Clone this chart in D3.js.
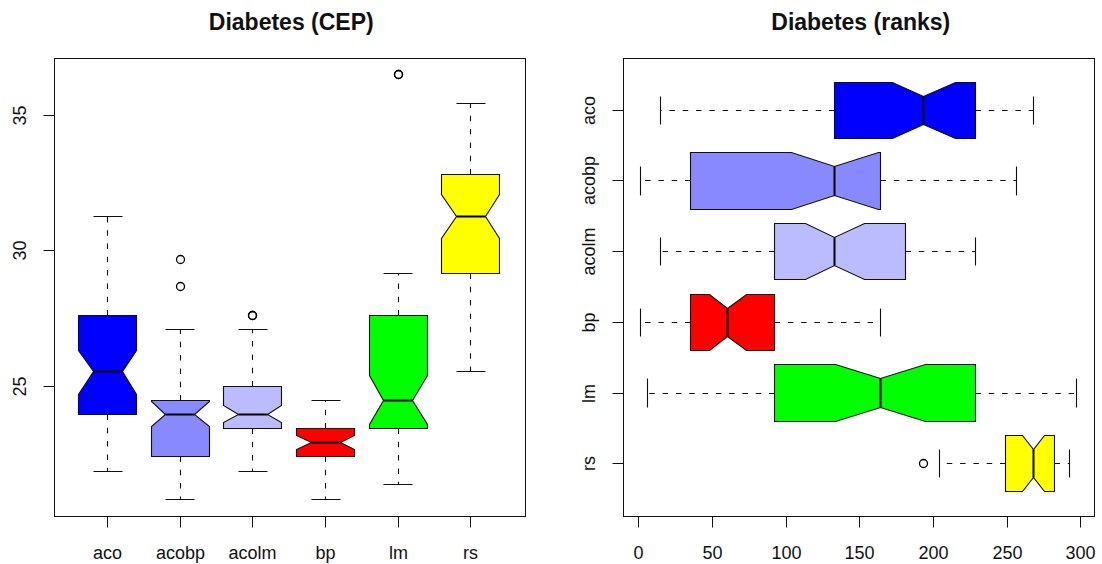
<!DOCTYPE html>
<html>
<head>
<meta charset="utf-8">
<script src="https://cdn.jsdelivr.net/npm/d3@7"></script>
<style>
  body { margin: 0; background: #fff; }
  svg { display: block; font-family: 'Liberation Sans', Arial, sans-serif; }
  .tick line { stroke: #111; }
  .tick text { fill: #111; font-size: 18px; }
  .frame { fill: none; stroke: #111; stroke-width: 1; }
  .whisker { stroke: #111; stroke-width: 1.1; stroke-dasharray: 5.5, 7.8; }
  .cap { stroke: #111; stroke-width: 1.1; }
  .box { stroke: #111; stroke-width: 1.1; }
  .median { stroke: #000; stroke-width: 2; }
  .outlier { fill: none; stroke: #000; stroke-width: 1.3; }
  .title { font-size: 23px; font-weight: bold; fill: #111; }
</style>
</head>
<body>
<svg id="chart" width="1102" height="564"></svg>
<script>
// methods, shared by both panels
const methods = ['aco', 'acobp', 'acolm', 'bp', 'lm', 'rs'];
const fills = ['#0000ff', '#8888ff', '#bbbbff', '#ff0000', '#00ff00', '#ffff00'];

// Diabetes (CEP): five-number summaries plus notch limits
const cepLower    = [21.86, 20.83, 21.86, 20.83, 21.35, 25.53];
const cepQ1       = [23.96, 22.41, 23.45, 22.41, 23.45, 29.17];
const cepNotchLo  = [24.69, 23.50, 23.67, 22.66, 23.58, 30.44];
const cepMedian   = [25.53, 23.96, 23.96, 22.92, 24.48, 31.26];
const cepNotchHi  = [26.30, 24.45, 24.27, 23.19, 25.38, 32.06];
const cepQ3       = [27.62, 24.48, 25.00, 23.44, 27.62, 32.82];
const cepUpper    = [31.26, 27.09, 27.09, 24.48, 29.17, 35.44];
const cepOutliers = [[], [29.69, 28.66], [27.62, 27.62], [], [36.49, 36.49], []];
const cepTicks    = [25, 30, 35];

// Diabetes (ranks)
const rankLower    = [14.5, 1.4, 14.5, 1.4, 5.6, 204.0];
const rankQ1       = [132.6, 35.0, 91.8, 35.0, 91.8, 248.8];
const rankNotchLo  = [172.3, 103.5, 113.4, 47.9, 133.6, 260.6];
const rankMedian   = [193.2, 132.9, 132.9, 60.3, 164.1, 267.8];
const rankNotchHi  = [214.8, 162.3, 152.8, 73.0, 194.4, 274.9];
const rankQ3       = [228.4, 163.8, 180.8, 91.8, 228.4, 282.2];
const rankUpper    = [267.8, 256.3, 228.4, 163.8, 297.0, 292.0];
const rankOutliers = [[], [], [], [], [], [193.4]];
const rankTicks    = [0, 50, 100, 150, 200, 250, 300];

let svg = d3.select('#chart');

let makeStats = function (lower, q1, nlo, med, nhi, q3, upper, outs) {
  return methods.map((m, i) => {
    return {
      name: m, idx: i + 1, fill: fills[i],
      lower: lower[i], q1: q1[i], nlo: nlo[i], med: med[i],
      nhi: nhi[i], q3: q3[i], upper: upper[i], out: outs[i]
    };
  });
};

// R style: extend the data range by 4% on each side
let padRange = function (lo, hi) {
  let e = (hi - lo) * 0.04;
  return [lo - e, hi + e];
};

// put 1px lines on pixel centres so they stay sharp
let snap = (v) => Math.round(v - 0.5) + 0.5;

let drawPanel = function (cfg) {
  let stats = cfg.stats;
  let horiz = cfg.horizontal;
  let p = cfg.plot;

  let lo = d3.min(stats, (d) => Math.min(d.lower, ...d.out));
  let hi = d3.max(stats, (d) => Math.max(d.upper, ...d.out));

  let valScale = d3.scaleLinear().domain(padRange(lo, hi));
  let catScale = d3.scaleLinear().domain(padRange(0.5, methods.length + 0.5));
  if (horiz) {
    valScale.range([p.left, p.right]);
    catScale.range([p.top, p.bottom]);   // aco at the top
  } else {
    valScale.range([p.bottom, p.top]);
    catScale.range([p.left, p.right]);
  }

  // maps (category, value) to screen point
  let pt = (c, v) => horiz
    ? [snap(valScale(v)), snap(catScale(c))]
    : [snap(catScale(c)), snap(valScale(v))];

  let g = svg.append('g');
  let wid = 0.4, nf = 0.5;

  let grp = g.selectAll('.bx')
    .data(stats)
    .enter()
    .append('g')
    .attr('class', 'bx');

  // dashed whiskers
  grp.append('path')
    .attr('class', 'whisker')
    .attr('d', (d) => 'M' + pt(d.idx, d.q1) + 'L' + pt(d.idx, d.lower) +
      'M' + pt(d.idx, d.q3) + 'L' + pt(d.idx, d.upper));

  // staples
  grp.append('path')
    .attr('class', 'cap')
    .attr('d', (d) => 'M' + pt(d.idx - wid / 2, d.lower) + 'L' + pt(d.idx + wid / 2, d.lower) +
      'M' + pt(d.idx - wid / 2, d.upper) + 'L' + pt(d.idx + wid / 2, d.upper));

  // notched box, same vertex order as R's bxp
  grp.append('path')
    .attr('class', 'box')
    .attr('fill', (d) => d.fill)
    .attr('d', (d) => {
      let off = [-1, 1, 1, nf, 1, 1, -1, -1, -nf, -1];
      let vals = [d.q1, d.q1, d.nlo, d.med, d.nhi, d.q3, d.q3, d.nhi, d.med, d.nlo];
      return 'M' + off.map((o, k) => pt(d.idx + o * wid, vals[k])).join('L') + 'Z';
    });

  grp.append('path')
    .attr('class', 'median')
    .attr('d', (d) => 'M' + pt(d.idx - wid * nf, d.med) + 'L' + pt(d.idx + wid * nf, d.med));

  grp.selectAll('.outlier')
    .data((d) => d.out.map((v) => ({ idx: d.idx, v: v })))
    .enter()
    .append('circle')
    .attr('class', 'outlier')
    .attr('cx', (d) => pt(d.idx, d.v)[0])
    .attr('cy', (d) => pt(d.idx, d.v)[1])
    .attr('r', 4);

  // frame
  g.append('rect')
    .attr('class', 'frame')
    .attr('x', snap(p.left))
    .attr('y', snap(p.top))
    .attr('width', Math.round(p.right - p.left))
    .attr('height', Math.round(p.bottom - p.top));

  // category axis and value axis
  let catAxis = horiz
    ? d3.axisLeft(catScale).tickValues(stats.map((d) => d.idx)).tickFormat((d) => methods[d - 1])
    : d3.axisBottom(catScale).tickValues(stats.map((d) => d.idx)).tickFormat((d) => methods[d - 1]);
  let valAxis = horiz
    ? d3.axisBottom(valScale).tickValues(cfg.ticks)
    : d3.axisLeft(valScale).tickValues(cfg.ticks);

  let bottomAxis = horiz ? valAxis : catAxis;
  let leftAxis = horiz ? catAxis : valAxis;

  let xa = g.append('g')
    .attr('transform', 'translate(0,' + snap(p.bottom) + ')')
    .call(bottomAxis.tickSize(11).tickSizeOuter(0).offset(0));
  xa.select('.domain').remove();
  xa.selectAll('.tick').attr('transform', function () {
    let x = +this.getAttribute('transform').match(/translate\(([^,]+)/)[1];
    return 'translate(' + snap(x) + ',0)';
  });
  xa.selectAll('text').attr('y', 42.5).attr('dy', 0);
  if (horiz) {
    // R draws the axis line from first to last tick
    let t = cfg.ticks;
    xa.append('path').attr('stroke', '#111')
      .attr('d', 'M' + snap(valScale(t[0])) + ',0H' + snap(valScale(t[t.length - 1])));
  }

  let ya = g.append('g')
    .attr('transform', 'translate(' + snap(p.left) + ',0)')
    .call(leftAxis.tickSize(11).tickSizeOuter(0).offset(0));
  ya.select('.domain').remove();
  ya.selectAll('.tick').attr('transform', function () {
    let y = +this.getAttribute('transform').match(/,([^)]+)\)/)[1];
    return 'translate(0,' + snap(y) + ')';
  });
  ya.selectAll('text')
    .attr('x', null).attr('dy', 0)
    .attr('text-anchor', 'middle')
    .attr('transform', 'translate(-28.5,0) rotate(-90)');

  svg.append('text')
    .attr('class', 'title')
    .attr('x', (p.left + p.right) / 2 + 2)
    .attr('y', 30)
    .attr('text-anchor', 'middle')
    .text(cfg.title);
};

drawPanel({
  title: 'Diabetes (CEP)',
  horizontal: false,
  plot: { left: 54, right: 524.5, top: 58, bottom: 516 },
  stats: makeStats(cepLower, cepQ1, cepNotchLo, cepMedian, cepNotchHi, cepQ3, cepUpper, cepOutliers),
  ticks: cepTicks
});

drawPanel({
  title: 'Diabetes (ranks)',
  horizontal: true,
  plot: { left: 623.5, right: 1094, top: 58, bottom: 516 },
  stats: makeStats(rankLower, rankQ1, rankNotchLo, rankMedian, rankNotchHi, rankQ3, rankUpper, rankOutliers),
  ticks: rankTicks
});
</script>
</body>
</html>
